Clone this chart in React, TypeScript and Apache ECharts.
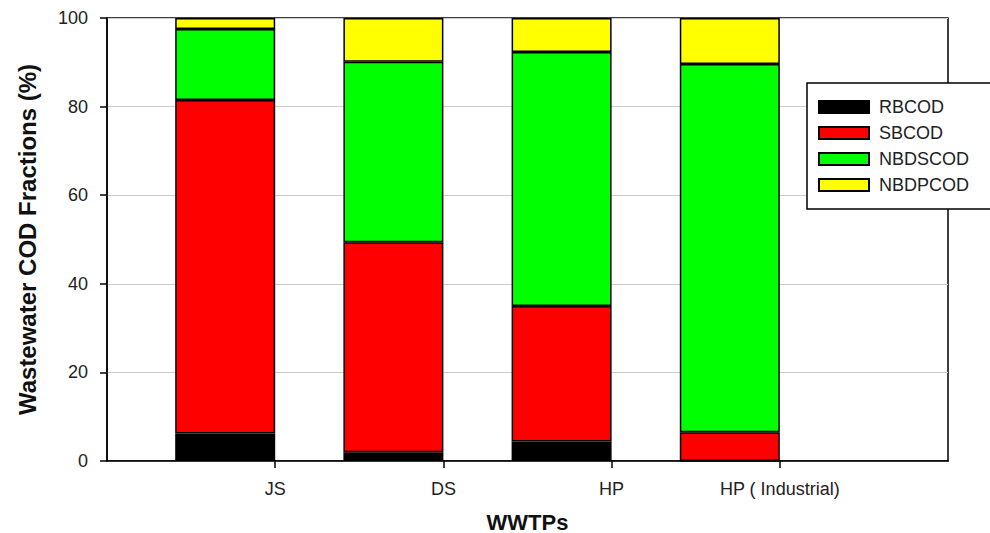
import React, { useEffect, useRef } from "react";
import * as echarts from "echarts";

const categories = ["JS", "DS", "HP", "HP ( Industrial)"];
const seriesNames = ["RBCOD", "SBCOD", "NBDSCOD", "NBDPCOD"];
const rbcod = [6.2, 2.0, 4.4, 0];
const sbcod = [75.3, 47.4, 30.6, 6.5];
const nbdscod = [16.0, 40.7, 57.3, 83.1];
const nbdpcod = [2.5, 9.9, 7.7, 10.4];
const yTicks = [0, 20, 40, 60, 80, 100];

const seriesValues = [rbcod, sbcod, nbdscod, nbdpcod];
const seriesColors = ["#000000", "#ff0000", "#00ff00", "#ffff00"];

// axis points: an empty slot at each end, categories on the inner ticks
const axisCategories = ["", ...categories, ""];

export default function App() {
  const ref = useRef<HTMLDivElement>(null);
  useEffect(() => {
    if (!ref.current) return;
    const chart = echarts.init(ref.current, undefined, { renderer: "svg" });
    const font = "Liberation Sans, Arial, sans-serif";
    const isInner = (index: number) => index >= 1 && index <= categories.length;
    const realSeries = seriesNames.map((name, si) => ({
      name,
      type: "bar",
      stack: "cod",
      barWidth: 100,
      barGap: "0%",
      itemStyle: { color: seriesColors[si], borderColor: "#000", borderWidth: 1.5 },
      data: [null, ...seriesValues[si], null],
    }));
    // invisible companion stack that pushes each bar to the left of its tick
    const padSeries = {
      name: "pad",
      type: "bar",
      stack: "pad",
      barWidth: 100,
      barGap: "0%",
      silent: true,
      itemStyle: { color: "transparent" },
      data: axisCategories.map(() => null),
    };
    chart.setOption({
      animation: false,
      backgroundColor: "#ffffff",
      grid: {
        left: 107,
        right: 42,
        top: 18,
        bottom: 72,
        show: true,
        borderColor: "#000",
        borderWidth: 1.5,
        backgroundColor: "transparent",
        containLabel: false,
        outerBoundsMode: "none",
      },
      legend: {
        orient: "vertical",
        left: 807,
        top: 83,
        data: seriesNames,
        itemWidth: 50,
        itemHeight: 12,
        itemGap: 8,
        icon: "rect",
        padding: [15, 60, 15, 11],
        backgroundColor: "#ffffff",
        borderColor: "#000",
        borderWidth: 1.5,
        textStyle: {
          fontFamily: font,
          fontSize: 18,
          lineHeight: 18,
          color: "#222",
          padding: [0, 0, 0, 5],
        },
        z: 10,
      },
      xAxis: {
        type: "category",
        data: axisCategories,
        boundaryGap: false,
        name: "WWTPs",
        nameLocation: "middle",
        nameGap: 50,
        nameTextStyle: { fontFamily: font, fontSize: 22, fontWeight: "bold", color: "#111" },
        axisLine: { show: true, lineStyle: { color: "#000", width: 1.5 } },
        axisTick: {
          show: true,
          interval: (index: number) => isInner(index),
          length: 7,
          lineStyle: { color: "#000", width: 1.5 },
        },
        axisLabel: {
          interval: 0,
          fontFamily: font,
          fontSize: 18,
          color: "#222",
          margin: 19,
        },
        splitLine: { show: false },
      },
      yAxis: {
        type: "value",
        min: yTicks[0],
        max: yTicks[yTicks.length - 1],
        interval: yTicks[1] - yTicks[0],
        name: "Wastewater COD Fractions (%)",
        nameLocation: "middle",
        nameGap: 68,
        nameTextStyle: { fontFamily: font, fontSize: 24, fontWeight: "bold", color: "#111" },
        axisLine: { show: true, lineStyle: { color: "#000", width: 1.5 } },
        axisTick: { show: true, length: 7, lineStyle: { color: "#000", width: 1.5 } },
        axisLabel: { fontFamily: font, fontSize: 18, color: "#222", margin: 19 },
        splitLine: { show: true, lineStyle: { color: "#cccccc", width: 1 } },
      },
      series: [...realSeries, padSeries],
    });
    return () => chart.dispose();
  }, []);
  return (
    <div
      ref={ref}
      style={{ position: "absolute", left: 0, top: 0, width: 990, height: 533 }}
    />
  );
}
